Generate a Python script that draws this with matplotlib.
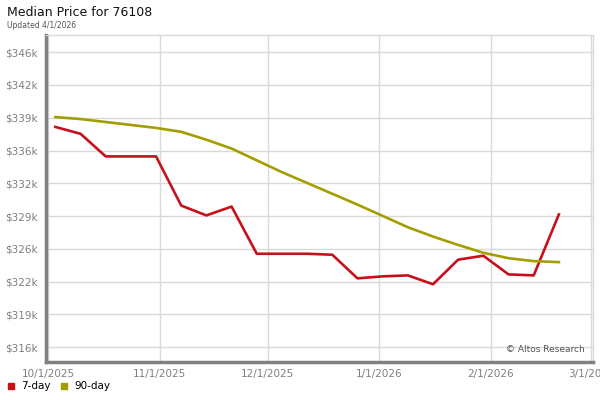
import numpy as np
import matplotlib
matplotlib.use('Agg')
import matplotlib.pyplot as plt
import matplotlib.dates as mdates
from matplotlib.lines import Line2D

# weekly points, first one on 10/3/2025
dates = np.arange(np.datetime64('2025-10-03'), np.datetime64('2026-02-21'), np.timedelta64(7, 'D'))

# median price in $k
day7 = [338.1, 337.4, 335.1, 335.1, 335.1, 330.1, 329.1, 330.0, 325.2, 325.2, 325.2,
        325.1, 322.7, 322.9, 323.0, 322.1, 324.6, 325.0, 323.1, 323.0, 329.2]
day90 = [339.1, 338.9, 338.6, 338.3, 338.0, 337.6, 336.8, 335.9, 334.7, 333.5, 332.4,
         331.3, 330.2, 329.05, 327.9, 326.95, 326.1, 325.3, 324.75, 324.45, 324.35]

ytick_vals = [315.7 + i * 10 / 3 for i in range(10)]
ytick_labels = ['$316k', '$319k', '$322k', '$326k', '$329k', '$332k', '$336k', '$339k', '$342k', '$346k']
xtick_dates = ['2025-10-01', '2025-11-01', '2025-12-01', '2026-01-01', '2026-02-01', '2026-03-01']
xtick_labels = ['10/1/2025', '11/1/2025', '12/1/2025', '1/1/2026', '2/1/2026', '3/1/2026']

red = '#c8101a'
olive = '#a39e00'
grid = '#d9d9d9'
grey = '#7f7f7f'

fig = plt.figure(figsize=(6, 4), dpi=100)
ax = fig.add_axes([0.0767, 0.094, 0.9117, 0.818])

x = dates.astype('datetime64[D]').astype('O')
ax.plot(x, day7, color=red, lw=1.9, zorder=3)
ax.plot(x, day90, color=olive, lw=1.9, zorder=3)

xt = [np.datetime64(d).astype('O') for d in xtick_dates]
ax.set_xticks(xt)
ax.set_xticklabels(xtick_labels)
ax.set_xlim(mdates.date2num(xt[0]) - 0.6, mdates.date2num(xt[-1]) + 0.5)
ax.set_yticks(ytick_vals)
ax.set_yticklabels(ytick_labels)
ax.set_ylim(314.15, 347.43)

ax.grid(True, color=grid, lw=1)
ax.set_axisbelow(True)
ax.tick_params(length=0, labelsize=7.5, colors=grey, pad=6)
ax.tick_params(axis='x', pad=5)
for s in ['top', 'right']:
    ax.spines[s].set_color(grid)
    ax.spines[s].set_linewidth(1)
for s in ['left', 'bottom']:
    ax.spines[s].set_color('#808080')
    ax.spines[s].set_linewidth(2.5)

ax.text(0.985, 0.025, '\u00a9 Altos Research', transform=ax.transAxes, ha='right', va='bottom',
        fontsize=6.5, color='#555555')

fig.text(0.012, 0.97, 'Median Price for 76108', fontsize=9, color='#111111', va='center')
fig.text(0.012, 0.936, 'Updated 4/1/2026', fontsize=5.5, color='#555555', va='center')

handles = [Line2D([], [], ls='none', marker='s', ms=4.5, color=red),
           Line2D([], [], ls='none', marker='s', ms=4.5, color=olive)]
fig.legend(handles, ['7-day', '90-day'], loc='lower left', bbox_to_anchor=(-0.005, -0.002), ncol=2,
           frameon=False, fontsize=7.5, handlelength=0.8, handletextpad=0.6, columnspacing=0.9)

fig.savefig('out.png', dpi=100)
